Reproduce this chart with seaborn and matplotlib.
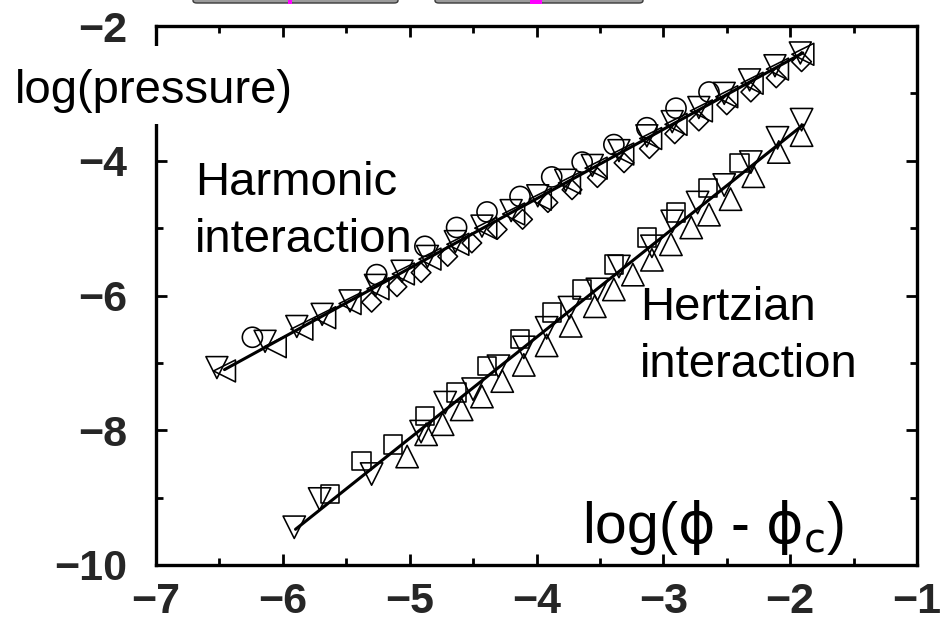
import numpy as np
import pandas as pd
import matplotlib
matplotlib.use("Agg")
import matplotlib.pyplot as plt
from matplotlib.patches import Rectangle, FancyBboxPatch
import seaborn as sns

# ---------------- data: log(pressure) vs log(phi - phi_c) ----------------
# Harmonic interaction
harm_circle_x = [-6.24, -5.26, -4.88, -4.63, -4.39, -4.13, -3.88, -3.64, -3.39, -3.13, -2.90, -2.64]
harm_circle_y = [-6.62, -5.69, -5.27, -4.99, -4.76, -4.53, -4.24, -4.02, -3.76, -3.51, -3.22, -2.98]

harm_diamond_x = [-5.30, -5.10, -4.91, -4.70, -4.51, -4.31, -4.11, -3.91, -3.72, -3.52,
                  -3.31, -3.11, -2.91, -2.72, -2.50, -2.31, -2.11, -1.91]
harm_diamond_y = [-6.10, -5.87, -5.66, -5.42, -5.22, -5.02, -4.87, -4.62, -4.43, -4.25,
                  -4.03, -3.82, -3.60, -3.41, -3.17, -2.98, -2.77, -2.53]

harm_left_x = [-6.46, -6.06, -5.85, -5.67, -5.47, -5.25, -5.05, -4.84, -4.62, -4.40, -4.18,
               -3.97, -3.74, -3.53, -3.32, -3.10, -2.90, -2.70, -2.50, -2.30, -2.10, -1.90]
harm_left_y = [-7.12, -6.76, -6.50, -6.33, -6.12, -5.90, -5.68, -5.46, -5.24, -5.00, -4.79,
               -4.57, -4.33, -4.11, -3.90, -3.67, -3.46, -3.26, -3.05, -2.85, -2.64, -2.42]

harm_down_x = [-6.52, -6.14, -5.89, -5.69, -5.47, -5.27, -5.06, -4.86, -4.64, -4.43, -4.20,
               -3.99, -3.77, -3.56, -3.35, -3.13, -2.93, -2.72, -2.52, -2.32, -2.12, -1.92]
harm_down_y = [-7.07, -6.68, -6.46, -6.28, -6.08, -5.85, -5.64, -5.42, -5.20, -4.97, -4.74,
               -4.52, -4.29, -4.07, -3.85, -3.63, -3.42, -3.21, -3.00, -2.80, -2.59, -2.40]

harm_fit_x = [-6.46, -1.90]
harm_fit_y = [-7.10, -2.40]

# Hertzian interaction
hertz_square_x = [-5.63, -5.38, -5.13, -4.88, -4.63, -4.39, -4.13, -3.88, -3.64, -3.39, -3.13, -2.90, -2.65, -2.40]
hertz_square_y = [-8.95, -8.46, -8.21, -7.79, -7.44, -7.05, -6.65, -6.25, -5.91, -5.54, -5.14, -4.77, -4.40, -4.03]

hertz_down_x = [-5.91, -5.71, -5.30, -4.91, -4.72, -4.50, -4.30, -4.10, -3.92, -3.74, -3.52,
                -3.35, -3.09, -2.93, -2.73, -2.52, -2.31, -2.10, -1.91]
hertz_down_y = [-9.44, -9.02, -8.65, -8.02, -7.59, -7.39, -7.05, -6.77, -6.48, -6.18, -5.91,
                -5.57, -5.27, -4.90, -4.62, -4.36, -4.02, -3.66, -3.39]

hertz_up_x = [-5.02, -4.87, -4.74, -4.59, -4.43, -4.27, -4.10, -3.92, -3.73, -3.54, -3.39,
              -3.24, -3.09, -2.94, -2.78, -2.64, -2.47, -2.29, -2.09, -1.91]
hertz_up_y = [-8.39, -8.06, -7.91, -7.69, -7.50, -7.27, -7.03, -6.74, -6.45, -6.16, -5.91,
              -5.69, -5.47, -5.24, -4.99, -4.80, -4.57, -4.23, -3.87, -3.62]

hertz_fit_x = [-5.90, -1.90]
hertz_fit_y = [-9.47, -3.47]

x_ticks = [-7, -6, -5, -4, -3, -2, -1]
y_ticks = [-10, -8, -6, -4, -2]

# ---------------- style ----------------
sns.set_theme(style="ticks")
plt.rcParams["font.family"] = ["Liberation Sans", "DejaVu Sans"]
plt.rcParams["mathtext.fontset"] = "dejavusans"

W, H, DPI = 949, 621, 100
fig = plt.figure(figsize=(W / DPI, H / DPI), dpi=DPI)
fig.patch.set_facecolor("white")

# axes box in pixels: left 156, right 917, top 26, bottom 565
L, R, T, B = 156, 917, 26, 565
ax = fig.add_axes([L / W, (H - B) / H, (R - L) / W, (B - T) / H])
ax.set_facecolor("white")

edge_kw = dict(facecolor="none", edgecolor="black", linewidth=1.15, legend=False, zorder=3)

frames = {
    "harm_o": (harm_circle_x, harm_circle_y, "o", 210),
    "harm_D": (harm_diamond_x, harm_diamond_y, "D", 100),
    "harm_<": (harm_left_x, harm_left_y, "<", 250),
    "harm_v": (harm_down_x, harm_down_y, "v", 250),
    "hertz_s": (hertz_square_x, hertz_square_y, "s", 175),
    "hertz_v": (hertz_down_x, hertz_down_y, "v", 260),
    "hertz_^": (hertz_up_x, hertz_up_y, "^", 260),
}
for name, (xs, ys, mk, size) in frames.items():
    df = pd.DataFrame({"x": xs, "y": ys})
    sns.scatterplot(data=df, x="x", y="y", marker=mk, s=size, ax=ax, **edge_kw)

for fx, fy in [(harm_fit_x, harm_fit_y), (hertz_fit_x, hertz_fit_y)]:
    sns.lineplot(x=fx, y=fy, ax=ax, color="black", linewidth=2.2, zorder=4)

ax.set_xlim(-7, -1)
ax.set_ylim(-10, -2)
ax.set_xticks(x_ticks)
ax.set_yticks(y_ticks)
ax.set_xticks(np.arange(-6.5, -1.0, 1.0), minor=True)
ax.set_yticks([-9, -7, -5, -3], minor=True)
ax.set_xticklabels([f"\u2212{abs(v)}" for v in x_ticks])
ax.set_yticklabels([f"\u2212{abs(v)}" for v in y_ticks])
ax.set_xlabel("")
ax.set_ylabel("")

for sp in ax.spines.values():
    sp.set_visible(True)
    sp.set_linewidth(2.4)
    sp.set_color("black")

ax.tick_params(which="both", direction="in", top=True, right=True, width=2.0, color="black")
ax.tick_params(which="major", length=8)
ax.tick_params(which="minor", length=5)
ax.tick_params(axis="x", which="major", pad=12, labelsize=31)
ax.tick_params(axis="y", which="major", pad=21, labelsize=31)
for lbl in ax.get_xticklabels() + ax.get_yticklabels():
    lbl.set_fontweight("bold")

# ---------------- annotations ----------------
txt_kw = dict(fontsize=34, color="black", family=["Liberation Sans", "DejaVu Sans"])

# white panel behind the y-axis caption, interrupting the left frame line
fig.add_artist(Rectangle((10 / W, 1 - 124 / H), 292 / W, 78 / H, transform=fig.transFigure,
                         facecolor="white", edgecolor="none", zorder=2))
fig.text(15 / W, 1 - 103 / H, "log(pressure)", ha="left", va="baseline", zorder=3, **txt_kw)


def px_to_data(px, py):
    return -7 + (px - L) / ((R - L) / 6.0), -2 - (py - T) / ((B - T) / 8.0)


for s, (px, py) in [("Harmonic", (195, 195)), ("interaction", (195, 252)),
                    ("Hertzian", (640, 320)), ("interaction", (640, 377))]:
    x, y = px_to_data(px, py)
    ax.text(x, y, s, ha="left", va="baseline", zorder=5, **txt_kw)

x, y = px_to_data(582, 543)
ax.text(x, y, r"log($\mathrm{\phi}$ - $\mathrm{\phi}_\mathrm{c}$)", ha="left", va="baseline",
        fontsize=41, color="black", family=["Liberation Sans", "DejaVu Sans"], zorder=5)

# partial header panels along the top edge
for x0, x1 in [(193, 398), (435, 643)]:
    fig.add_artist(FancyBboxPatch((x0 / W, 1 - 3 / H), (x1 - x0) / W, 0.05,
                                  boxstyle="round,pad=0,rounding_size=0.004",
                                  transform=fig.transFigure, facecolor="#9b9b9b",
                                  edgecolor="#3a3a3a", linewidth=1.0, clip_on=False))
for x0, w in [(288, 4), (530, 12)]:
    fig.add_artist(Rectangle((x0 / W, 1 - 4 / H), w / W, 4 / H, transform=fig.transFigure,
                             facecolor="#ff00ff", edgecolor="none"))

fig.savefig("out.png", dpi=DPI, facecolor="white")
